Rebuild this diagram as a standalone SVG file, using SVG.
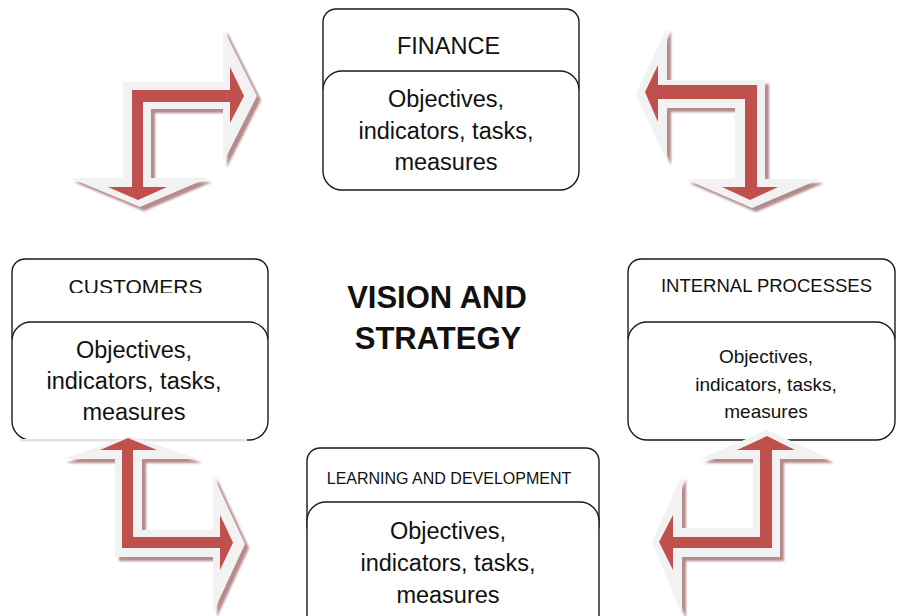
<svg xmlns="http://www.w3.org/2000/svg" width="897" height="616" viewBox="0 0 897 616">
<style>
  .box{fill:#fff;stroke:#1a1a1a;stroke-width:1.4}
  .t{font-family:"Liberation Sans",Arial,sans-serif;fill:#111;text-anchor:middle}
  .shadow{fill:#b48a8a;filter:url(#blur)}
  .glow{fill:#f2f2f2}
  .red{fill:#c0504d}
</style>
<defs>
  <filter id="blur" x="-10%" y="-10%" width="120%" height="120%">
    <feGaussianBlur stdDeviation="0.8"/>
  </filter>
  <clipPath id="clipCust"><rect x="0" y="250" width="290" height="43"/></clipPath>
  <polygon id="g-tl" points="123,82 223,82 223,28 257,96 223,163 223,109 151,109 151,178 208,178 140,207 70,178 123,178"/>
  <polygon id="g-tr" points="765,80 765,179 820,179 752,208 685,179 735,179 735,108 667,108 667,161 636,94 667,27 667,80"/>
  <polygon id="g-bl" points="115,459 62,459 130,436 198,459 142,459 142,530 213,530 213,475 245,544 213,613 213,557 115,557"/>
  <polygon id="g-br" points="753,459 700,459 767,430 830,459 780,459 780,557 682,557 682,615 652,542 682,475 682,528 753,528"/>
</defs>
<rect width="897" height="616" fill="#fff"/>

<g id="finance">
  <rect class="box" x="323" y="9" width="256" height="90" rx="13"/>
  <rect class="box" x="323" y="71" width="256" height="119" rx="19"/>
  <text class="t" x="448.5" y="54" font-size="23.5">FINANCE</text>
  <text class="t" x="446" y="107" font-size="23.5">Objectives,</text>
  <text class="t" x="446" y="139" font-size="23.5">indicators, tasks,</text>
  <text class="t" x="446" y="170" font-size="23.5">measures</text>
</g>

<g id="customers">
  <rect class="box" x="12" y="259" width="256" height="90" rx="13"/>
  <rect class="box" x="12" y="322" width="256" height="118" rx="19"/>
  <rect x="20" y="439" width="227" height="2.5" fill="#e2e2e2"/>
  <text class="t" x="135.5" y="294" font-size="21" clip-path="url(#clipCust)">CUSTOMERS</text>
  <text class="t" x="134" y="358" font-size="23.5">Objectives,</text>
  <text class="t" x="134" y="389" font-size="23.5">indicators, tasks,</text>
  <text class="t" x="134" y="420" font-size="23.5">measures</text>
</g>

<g id="internal-processes">
  <rect class="box" x="628" y="259" width="267" height="90" rx="13"/>
  <rect class="box" x="628" y="322" width="267" height="118" rx="19"/>
  <text class="t" x="766.5" y="292" font-size="18.5">INTERNAL PROCESSES</text>
  <text class="t" x="766" y="363" font-size="19">Objectives,</text>
  <text class="t" x="766" y="391" font-size="19">indicators, tasks,</text>
  <text class="t" x="766" y="418" font-size="19">measures</text>
</g>

<g id="learning-development">
  <rect class="box" x="307" y="448" width="292" height="90" rx="13"/>
  <rect class="box" x="307" y="502" width="292" height="140" rx="19"/>
  <text class="t" x="449" y="484" font-size="16">LEARNING AND DEVELOPMENT</text>
  <text class="t" x="448" y="539" font-size="23.5">Objectives,</text>
  <text class="t" x="448" y="571" font-size="23.5">indicators, tasks,</text>
  <text class="t" x="448" y="603" font-size="23.5">measures</text>
</g>

<g id="vision-strategy">
  <text class="t" x="437" y="308" font-size="31" font-weight="bold">VISION AND</text>
  <text class="t" x="438" y="349" font-size="31" font-weight="bold">STRATEGY</text>
</g>

<g id="connectors">
  <g id="arrow-customers-finance">
    <use href="#g-tl" class="shadow" transform="translate(4,4)"/>
    <use href="#g-tl" class="glow"/>
    <polygon class="red" points="132,90 230,90 230,67 244,96 230,123 230,102 143,102 143,187 167,187 138,200 108,187 132,187"/>
  </g>
  <g id="arrow-finance-internal">
    <use href="#g-tr" class="shadow" transform="translate(4,4)"/>
    <use href="#g-tr" class="glow"/>
    <polygon class="red" points="757,85 757,187 778,187 750,200 722,187 745,187 745,99 658,99 658,122 645,92 658,65 658,85"/>
  </g>
  <g id="arrow-learning-customers">
    <use href="#g-bl" class="shadow" transform="translate(4,4)"/>
    <use href="#g-bl" class="glow"/>
    <polygon class="red" points="122,450 100,450 128,438 157,450 133,450 133,537 220,537 220,515 233,542.5 220,570 220,548 122,548"/>
  </g>
  <g id="arrow-internal-learning">
    <use href="#g-br" class="shadow" transform="translate(4,4)"/>
    <use href="#g-br" class="glow"/>
    <polygon class="red" points="772,450 795,450 767,436 737,450 760,450 760,537 673,537 673,515 659,542 673,570 673,548 772,548"/>
  </g>
</g>
</svg>
